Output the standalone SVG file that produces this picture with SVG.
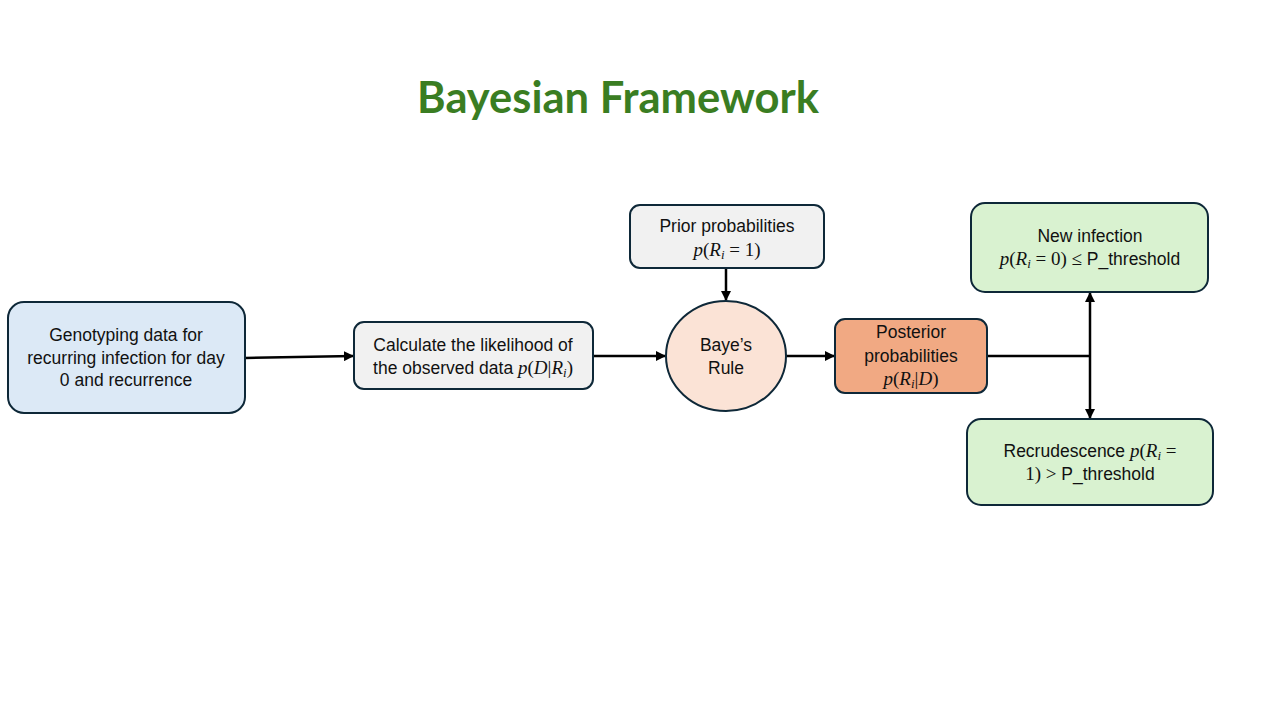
<svg xmlns="http://www.w3.org/2000/svg" width="1280" height="720" viewBox="0 0 1280 720">
<defs>
<marker id="ah" viewBox="0 0 10 10" refX="9" refY="5" markerWidth="4" markerHeight="4" orient="auto-start-reverse" markerUnits="strokeWidth">
<path d="M0,0 L10,5 L0,10 z" fill="#000"/>
</marker>
<style>
.box{stroke:#0e2838;stroke-width:2}
.t{font-family:"Liberation Sans",Arial,sans-serif;font-size:17.5px;fill:#111;text-anchor:middle}
.m{font-family:"Liberation Serif","Times New Roman",serif;font-size:19px}
.i{font-style:italic}
.s{font-size:13px}
.c{fill:none;stroke:#000;stroke-width:2.5}
</style>
</defs>
<rect width="1280" height="720" fill="#fff"/>
<text x="618" y="113" font-family="Lato,'Liberation Sans',sans-serif" font-weight="bold" font-size="43.5" fill="#3a7d22" text-anchor="middle">Bayesian Framework</text>

<g id="connectors">
<line class="c" x1="245" y1="358" x2="353" y2="356" marker-end="url(#ah)"/>
<line class="c" x1="593" y1="356" x2="665" y2="356" marker-end="url(#ah)"/>
<line class="c" x1="726" y1="268" x2="726" y2="300" marker-end="url(#ah)"/>
<line class="c" x1="786" y1="356" x2="834" y2="356" marker-end="url(#ah)"/>
<line class="c" x1="987" y1="356" x2="1090" y2="356"/>
<line class="c" x1="1090" y1="293" x2="1090" y2="418" marker-start="url(#ah)" marker-end="url(#ah)"/>
</g>

<g id="genotyping">
<rect class="box" x="8" y="302" width="237" height="111" rx="16" fill="#dce9f6"/>
<text class="t" x="126" y="341">Genotyping data for</text>
<text class="t" x="126" y="364">recurring infection for day</text>
<text class="t" x="126" y="386">0 and recurrence</text>
</g>

<g id="likelihood">
<rect class="box" x="354" y="322" width="239" height="67" rx="10" fill="#f1f1f1"/>
<text class="t" x="473" y="351">Calculate the likelihood of</text>
<text class="t" x="473" y="374">the observed data <tspan class="m i">p</tspan><tspan class="m">(</tspan><tspan class="m i">D</tspan><tspan class="m">|</tspan><tspan class="m i">R</tspan><tspan class="m i s" dy="3">i</tspan><tspan class="m" dy="-3">)</tspan></text>
</g>

<g id="prior">
<rect class="box" x="630" y="205" width="194" height="63" rx="10" fill="#f1f1f1"/>
<text class="t" x="727" y="232">Prior probabilities</text>
<text class="t" x="727" y="256"><tspan class="m i">p</tspan><tspan class="m">(</tspan><tspan class="m i">R</tspan><tspan class="m i s" dy="3">i</tspan><tspan class="m" dy="-3"> = 1)</tspan></text>
</g>

<g id="bayes">
<ellipse class="box" cx="726" cy="356" rx="60" ry="55" fill="#fbe3d6"/>
<text class="t" x="726" y="351">Baye’s</text>
<text class="t" x="726" y="374">Rule</text>
</g>

<g id="posterior">
<rect class="box" x="835" y="319" width="152" height="74" rx="10" fill="#f1a983"/>
<text class="t" x="911" y="338">Posterior</text>
<text class="t" x="911" y="362">probabilities</text>
<text class="t" x="911" y="385"><tspan class="m i">p</tspan><tspan class="m">(</tspan><tspan class="m i">R</tspan><tspan class="m i s" dy="3">i</tspan><tspan class="m" dy="-3">|</tspan><tspan class="m i">D</tspan><tspan class="m">)</tspan></text>
</g>

<g id="new-infection">
<rect class="box" x="971" y="203" width="237" height="89" rx="14" fill="#d9f2d0"/>
<text class="t" x="1090" y="242">New infection</text>
<text class="t" x="1090" y="265"><tspan class="m i">p</tspan><tspan class="m">(</tspan><tspan class="m i">R</tspan><tspan class="m i s" dy="3">i</tspan><tspan class="m" dy="-3"> = 0) ≤ </tspan>P_threshold</text>
</g>

<g id="recrudescence">
<rect class="box" x="967" y="419" width="246" height="86" rx="14" fill="#d9f2d0"/>
<text class="t" x="1090" y="457">Recrudescence <tspan class="m i">p</tspan><tspan class="m">(</tspan><tspan class="m i">R</tspan><tspan class="m i s" dy="3">i</tspan><tspan class="m" dy="-3"> =</tspan></text>
<text class="t" x="1090" y="480"><tspan class="m">1) &gt; </tspan>P_threshold</text>
</g>
</svg>
